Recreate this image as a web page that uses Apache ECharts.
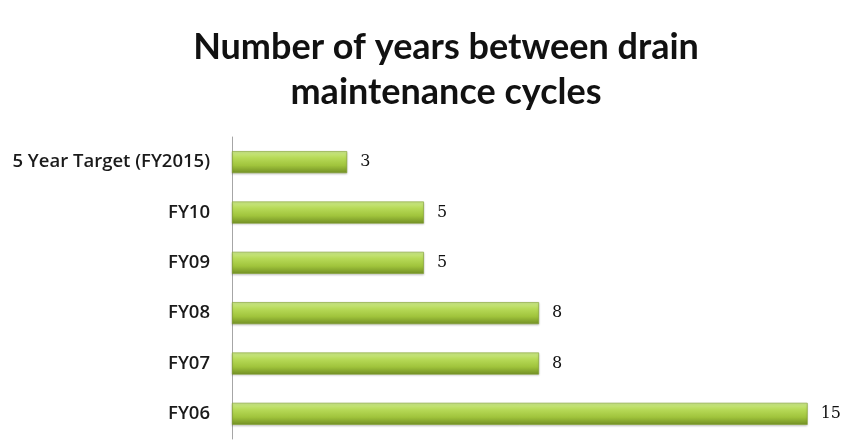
<!DOCTYPE html>
<html>
<head>
<meta charset="utf-8">
<script src="https://cdn.jsdelivr.net/npm/echarts@6/dist/echarts.min.js"></script>
<style>
  html, body { margin: 0; padding: 0; background: #fff; }
  #main { width: 856px; height: 448px; }
</style>
</head>
<body>
<div id="main"></div>
<script>
// data, bottom to top as ECharts draws category axes
var categories = ['FY06', 'FY07', 'FY08', 'FY09', 'FY10', '5 Year Target (FY2015)'];
var years = [15, 8, 8, 5, 5, 3];

var myChart = echarts.init(document.getElementById('main'));

var option = {
  backgroundColor: '#ffffff',
  animation: false,
  title: {
    text: 'Number of years between drain\nmaintenance cycles',
    left: 441,
    textAlign: 'center',
    top: 20,
    textStyle: {
      fontFamily: 'Lato',
      fontWeight: 'bold',
      fontSize: 36,
      lineHeight: 45,
      color: '#111'
    }
  },
  grid: {
    left: 232,
    right: 10,
    top: 137,
    bottom: 9,
    containLabel: false
  },
  xAxis: {
    type: 'value',
    min: 0,
    max: 16,
    show: false
  },
  yAxis: {
    type: 'category',
    data: categories,
    axisLine: { show: true, lineStyle: { color: '#a6a6a6', width: 1 } },
    axisTick: { show: false },
    axisLabel: {
      margin: 22,
      fontFamily: 'Open Sans',
      fontWeight: 600,
      fontSize: 18.5,
      color: '#1a1a1a'
    }
  },
  series: [
    {
      type: 'bar',
      data: years,
      barWidth: 22,
      itemStyle: {
        color: new echarts.graphic.LinearGradient(0, 0, 0, 1, [
          { offset: 0, color: '#cdea8c' },
          { offset: 0.3, color: '#b7da58' },
          { offset: 0.65, color: '#a0c43c' },
          { offset: 1, color: '#728f24' }
        ]),
        borderColor: '#7f9f2c',
        borderWidth: 0.6,
        shadowColor: 'rgba(0,0,0,0.18)',
        shadowBlur: 2,
        shadowOffsetY: 1
      },
      label: {
        show: true,
        position: 'right',
        distance: 13,
        fontFamily: 'DejaVu Serif',
        fontSize: 16,
        color: '#111'
      }
    }
  ]
};

myChart.setOption(option);
</script>
</body>
</html>
